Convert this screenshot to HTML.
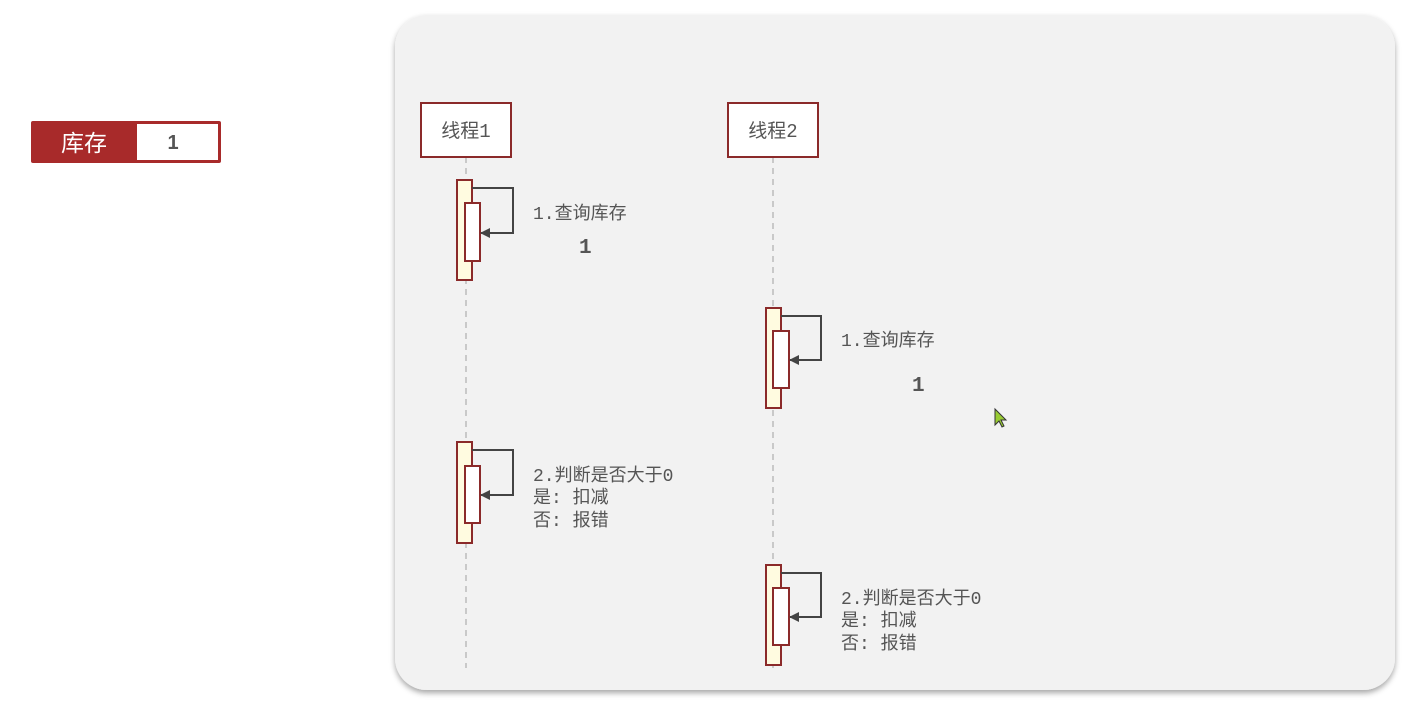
<!DOCTYPE html>
<html><head><meta charset="utf-8"><style>
body{margin:0;width:1410px;height:705px;background:#fff;overflow:hidden}
svg text{font-family:"Liberation Mono","Noto Sans CJK SC",monospace;fill:#555}
</style></head><body>
<svg width="1410" height="705" xmlns="http://www.w3.org/2000/svg">
<defs>
<filter id="sh" x="-5%" y="-5%" width="110%" height="110%"><feDropShadow dx="0" dy="3" stdDeviation="3" flood-color="#000" flood-opacity="0.35"/></filter>
<marker id="ar" markerWidth="10" markerHeight="10" refX="9" refY="5" orient="auto" markerUnits="userSpaceOnUse"><path d="M0,0 L10,5 L0,10 z" fill="#444"/></marker>
</defs>
<rect x="31" y="121" width="190" height="42" rx="2" fill="#a82a2a"/>
<rect x="137" y="124" width="81" height="36" fill="#fff"/>
<text x="84" y="151" text-anchor="middle" style="fill:#fff;font-family:'Liberation Sans','Noto Sans CJK SC',sans-serif;font-size:23px">库存</text>
<text x="173" y="149" text-anchor="middle" style="font-family:'Liberation Sans',sans-serif;font-size:20px;font-weight:bold">1</text>
<rect x="395" y="15" width="1000" height="675" rx="32" fill="#f2f2f2" filter="url(#sh)"/>
<g stroke="#bbb" stroke-width="1.5" stroke-dasharray="6,5"><line x1="466" y1="157" x2="466" y2="668"/><line x1="773" y1="157" x2="773" y2="668"/></g>
<g fill="#fff" stroke="#8b2a2a" stroke-width="2"><rect x="421" y="103" width="90" height="54"/><rect x="728" y="103" width="90" height="54"/></g>
<g style="font-family:'Liberation Sans','Noto Sans CJK SC',sans-serif;font-size:19px" text-anchor="middle"><text x="466" y="137">线程1</text><text x="773" y="137">线程2</text></g>
<g stroke="#8b2a2a" stroke-width="2">
<rect x="457" y="180" width="15" height="100" fill="#fffbe0"/><rect x="465" y="203" width="15" height="58" fill="#fff"/>
<rect x="457" y="442" width="15" height="101" fill="#fffbe0"/><rect x="465" y="466" width="15" height="57" fill="#fff"/>
<rect x="766" y="308" width="15" height="100" fill="#fffbe0"/><rect x="773" y="331" width="16" height="57" fill="#fff"/>
<rect x="766" y="565" width="15" height="100" fill="#fffbe0"/><rect x="773" y="588" width="16" height="57" fill="#fff"/>
</g>
<g fill="none" stroke="#444" stroke-width="2" marker-end="url(#ar)">
<path d="M472,188 H513 V233 H481"/><path d="M472,450 H513 V495 H481"/>
<path d="M781,316 H821 V360 H790"/><path d="M781,573 H821 V617 H790"/>
</g>
<g font-size="18">
<text x="533" y="219">1.查询库存</text>
<text x="533" y="481">2.判断是否大于0</text><text x="533" y="503">是: 扣减</text><text x="533" y="526">否: 报错</text>
<text x="841" y="346">1.查询库存</text>
<text x="841" y="604">2.判断是否大于0</text><text x="841" y="626">是: 扣减</text><text x="841" y="649">否: 报错</text>
</g>
<g font-size="21" font-weight="bold"><text x="579" y="253">1</text><text x="912" y="391">1</text></g>
<path d="M995,409 L995,425 L999,421 L1002,427 L1004,426 L1001,420 L1006,420 z" fill="#9c3" stroke="#333" stroke-width="1"/>
</svg>
</body></html>
